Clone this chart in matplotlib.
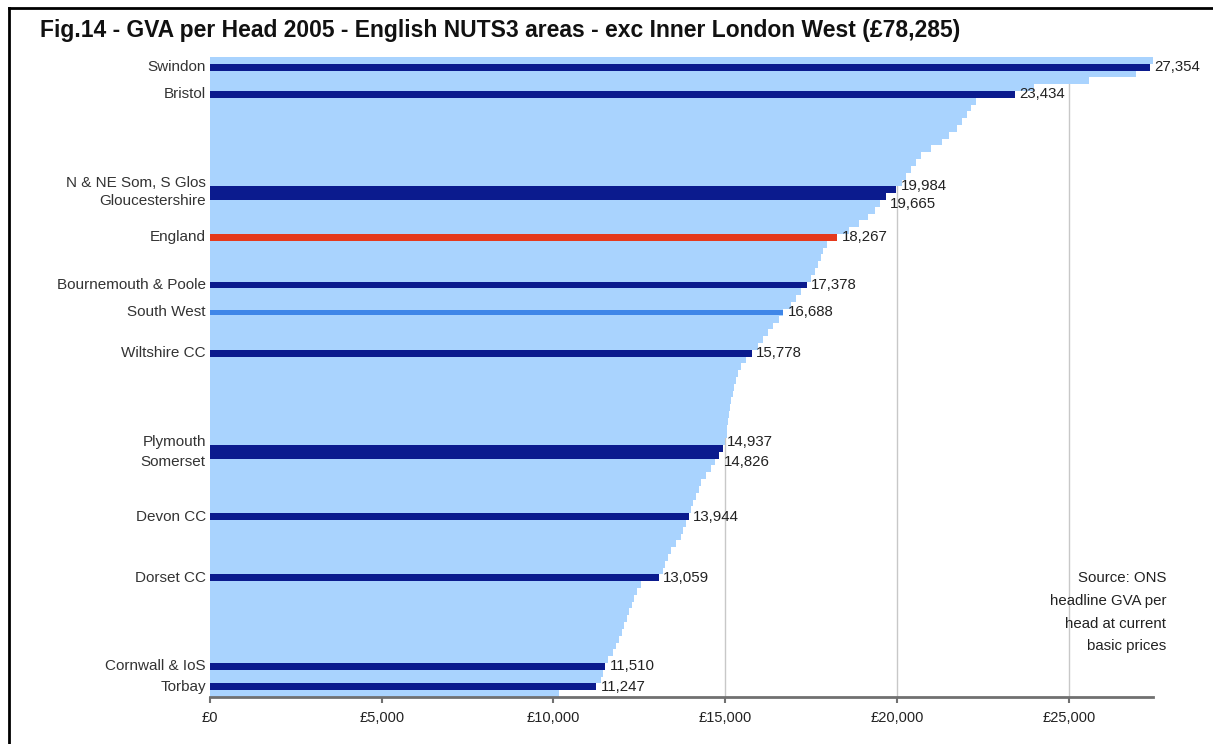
import matplotlib.pyplot as plt
from matplotlib.lines import Line2D

plt.rcParams['font.family'] = ['Liberation Sans', 'DejaVu Sans']

# GVA per head 2005, all English NUTS3 areas (plus England and South West), sorted high to low
# top row is clipped by the axis
gva = [33000, 27354, 26950, 25600, 24000, 23434, 22300, 22150, 22050, 21900,
       21750, 21500, 21300, 21000, 20700, 20550, 20400, 20250, 20150, 19984,
       19665, 19500, 19350, 19150, 18900, 18600, 18267, 17950, 17850, 17780,
       17700, 17600, 17500, 17378, 17200, 17050, 16900, 16688, 16550, 16400,
       16250, 16100, 15950, 15778, 15600, 15450, 15380, 15320, 15260, 15220,
       15180, 15130, 15100, 15080, 15060, 15040, 15000, 14937, 14826, 14700,
       14580, 14450, 14300, 14250, 14150, 14060, 14000, 13944, 13850, 13780,
       13700, 13560, 13430, 13330, 13250, 13180, 13059, 12560, 12420, 12350,
       12280, 12200, 12130, 12060, 12000, 11900, 11820, 11720, 11600, 11510,
       11450, 11370, 11247, 10150]

areas = ['Swindon', 'Bristol', 'N & NE Som, S Glos', 'Gloucestershire', 'England',
         'Bournemouth & Poole', 'South West', 'Wiltshire CC', 'Plymouth', 'Somerset',
         'Devon CC', 'Dorset CC', 'Cornwall & IoS', 'Torbay']
area_gva = [27354, 23434, 19984, 19665, 18267, 17378, 16688, 15778, 14937, 14826,
            13944, 13059, 11510, 11247]
area_type = ['nuts3', 'nuts3', 'nuts3', 'nuts3', 'country', 'nuts3', 'region', 'nuts3',
             'nuts3', 'nuts3', 'nuts3', 'nuts3', 'nuts3', 'nuts3']

ticks = [0, 5000, 10000, 15000, 20000, 25000]

title = 'Fig.14 - GVA per Head 2005 - English NUTS3 areas - exc Inner London West (\u00a378,285)'
source = 'Source: ONS\nheadline GVA per\nhead at current\nbasic prices'

colors = {'nuts3': '#0b1b8e', 'country': '#e5391c', 'region': '#3f86e8'}
heights = {'nuts3': 1.0, 'country': 0.95, 'region': 0.75}
# nudges (points) so labels of neighbouring rows don't overlap
name_dy = {'N & NE Som, S Glos': 5, 'Gloucestershire': -3, 'Plymouth': 5, 'Somerset': -5}
value_dy = {'N & NE Som, S Glos': 3, 'Gloucestershire': -5, 'Plymouth': 5, 'Somerset': -5}

fig = plt.figure(figsize=(12.13, 7.44), dpi=100)
ax = fig.add_axes([0.1731, 0.0632, 0.7774, 0.8602])

rows = list(range(len(gva)))
ax.barh(rows, gva, height=1.0, color='#a9d3fe', linewidth=0, zorder=2)

for name, v, kind in zip(areas, area_gva, area_type):
    r = gva.index(v)
    ax.barh(r, v, height=heights[kind], color=colors[kind], linewidth=0, zorder=3)
    ax.annotate(f'{v:,}', (v, r), xytext=(3, value_dy.get(name, 0)), textcoords='offset points',
                ha='left', va='center', fontsize=10.8, color='#222222')
    ax.annotate(name, (0, r), xytext=(-3, name_dy.get(name, 0)), textcoords='offset points',
                ha='right', va='center', fontsize=11, color='#333333')

ax.set_xlim(0, 27450)
ax.set_ylim(len(gva) - 0.5, -0.5)
ax.set_yticks([])
ax.set_xticks(ticks)
ax.set_xticklabels([f'\u00a3{t:,}' for t in ticks])
ax.set_axisbelow(True)
ax.xaxis.grid(True, color='#c8c8c8', linewidth=1)
ax.tick_params(axis='x', length=4, width=1.5, color='#707070', labelsize=10.5,
               labelcolor='#222222', pad=6)
for s in ['top', 'right', 'left']:
    ax.spines[s].set_visible(False)
ax.spines['bottom'].set_color('#707070')
ax.spines['bottom'].set_linewidth(2)
ax.spines['bottom'].set_zorder(4)

fig.text(40 / 1213, 1 - 31 / 744, title, fontsize=16.5, weight='bold', va='center', color='#111111')
fig.text(1166 / 1213, 1 - 571 / 744, source, ha='right', va='top', fontsize=10.8,
         linespacing=1.8, color='#222222')

# frame round the picture
fx = 9 / 1213
fy = 1 - 8 / 744
fig.add_artist(Line2D([fx, fx], [0, fy], transform=fig.transFigure, color='black', linewidth=2))
fig.add_artist(Line2D([fx, 1], [fy, fy], transform=fig.transFigure, color='black', linewidth=2))

fig.savefig('out.png', dpi=100)
